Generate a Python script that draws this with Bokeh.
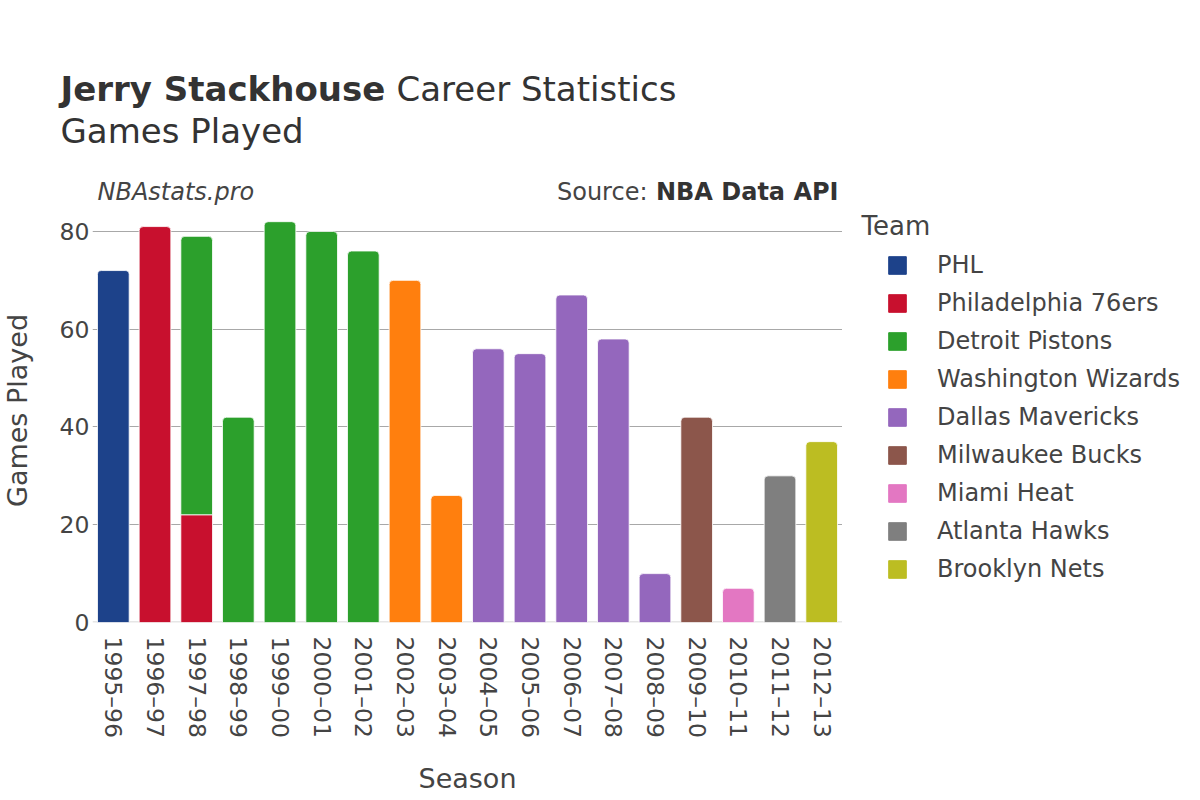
import math
from bokeh.plotting import figure
from bokeh.layouts import column, row
from bokeh.models import (ColumnDataSource, Range1d, FactorRange, FixedTicker, Label,
                          Legend, LegendItem, Span)
from bokeh.embed import file_html
from bokeh.resources import INLINE

# ---------------- data ----------------
seasons = ["1995–96", "1996–97", "1997–98", "1998–99", "1999–00", "2000–01",
           "2001–02", "2002–03", "2003–04", "2004–05", "2005–06", "2006–07",
           "2007–08", "2008–09", "2009–10", "2010–11", "2011–12", "2012–13"]

row_seasons = ["1995–96", "1996–97", "1997–98", "1997–98", "1998–99", "1999–00",
               "2000–01", "2001–02", "2002–03", "2003–04", "2004–05", "2005–06",
               "2006–07", "2007–08", "2008–09", "2009–10", "2010–11", "2011–12",
               "2012–13"]
row_teams = ["PHL", "Philadelphia 76ers", "Philadelphia 76ers", "Detroit Pistons",
             "Detroit Pistons", "Detroit Pistons", "Detroit Pistons", "Detroit Pistons",
             "Washington Wizards", "Washington Wizards", "Dallas Mavericks",
             "Dallas Mavericks", "Dallas Mavericks", "Dallas Mavericks",
             "Dallas Mavericks", "Milwaukee Bucks", "Miami Heat", "Atlanta Hawks",
             "Brooklyn Nets"]
row_games = [72, 81, 22, 57, 42, 82, 80, 76, 70, 26, 56, 55, 67, 58, 10, 42, 7, 30, 37]

teams = ["PHL", "Philadelphia 76ers", "Detroit Pistons", "Washington Wizards",
         "Dallas Mavericks", "Milwaukee Bucks", "Miami Heat", "Atlanta Hawks",
         "Brooklyn Nets"]
team_colors = ["#1d428a", "#c8102e", "#2ca02c", "#ff7f0e", "#9467bd", "#8c564b",
               "#e377c2", "#7f7f7f", "#bcbd22"]

y_ticks = [0, 20, 40, 60, 80]
grid_ticks = [20, 40, 60, 80]

FONT = "DejaVu Sans"
TXT = "#444444"
DARK = "#333333"

# ---------------- stacking ----------------
color_of = dict(zip(teams, team_colors))
cum = {}
last_idx = {}
for i, s in enumerate(row_seasons):
    last_idx[s] = i

top_cols = dict(season=[], team=[], bottom=[], top=[], color=[])
mid_cols = dict(season=[], team=[], bottom=[], top=[], color=[])
for i, (s, t, g) in enumerate(zip(row_seasons, row_teams, row_games)):
    b = cum.get(s, 0)
    cum[s] = b + g
    target = top_cols if last_idx[s] == i else mid_cols
    target["season"].append(s)
    target["team"].append(t)
    target["bottom"].append(b)
    target["top"].append(b + g)
    target["color"].append(color_of[t])

top_src = ColumnDataSource(top_cols)
mid_src = ColumnDataSource(mid_cols)


def blank(fig):
    fig.outline_line_color = None
    fig.border_fill_color = "white"
    fig.background_fill_color = "white"
    fig.title.visible = False
    fig.grid.visible = False


def lab(fig, x, y, text, size, style="normal", align="left", color=DARK, angle=0):
    fig.add_layout(Label(x=x, y=y, x_units="screen", y_units="screen", text=text,
                         text_font=FONT, text_font_size=size, text_font_style=style,
                         text_align=align, text_baseline="middle",
                         text_color=color, angle=angle))


TOTAL_W = 1192
LEFT_W = 40
MAIN_W = 842 - LEFT_W
SIDE_W = TOTAL_W - LEFT_W - MAIN_W
MH = 590

# ---------------- header ----------------
HH = 207
head = figure(width=TOTAL_W, height=HH, x_range=Range1d(0, TOTAL_W),
              y_range=Range1d(0, HH), x_axis_type=None, y_axis_type=None,
              output_backend="svg", toolbar_location=None, min_border=0)
blank(head)
lab(head, 60, 119, "Jerry Stackhouse", "34px", "bold")
lab(head, 396, 119, "Career Statistics", "34px")
lab(head, 60, 77, "Games Played", "34px")
lab(head, 97, 16, "NBAstats.pro", "24px", "italic", color=TXT)
lab(head, 647, 16, "Source:", "24px", align="right", color=TXT)
lab(head, 838, 16, "NBA Data API", "24px", "bold", align="right", color=DARK)

# ---------------- y-axis title column ----------------
left = figure(width=LEFT_W, height=MH, x_range=Range1d(0, LEFT_W),
              y_range=Range1d(0, MH), x_axis_type=None, y_axis_type=None,
              output_backend="svg", toolbar_location=None, min_border=0)
blank(left)
lab(left, 17, 212, "Games Played", "27px", align="center", color=TXT,
    angle=math.pi / 2)

# ---------------- main chart ----------------
p = figure(width=MAIN_W, height=MH, x_range=FactorRange(*seasons),
           y_range=Range1d(0, 84.9), output_backend="svg", toolbar_location=None,
           min_border_left=92 - LEFT_W, min_border_right=0, min_border_top=0,
           min_border_bottom=175)
p.outline_line_color = None
p.title.visible = False
p.background_fill_color = "white"
p.border_fill_color = "white"

p.add_layout(Span(location=0, dimension="width", line_color="#e6e6e6",
                  line_width=3, level="underlay"))

BW = 0.76
r_top = p.vbar(x="season", bottom="bottom", top="top", width=BW, source=top_src,
               fill_color="color", line_color="white", line_width=0.8,
               border_radius=(4, 4, 0, 0))
r_mid = p.vbar(x="season", bottom="bottom", top="top", width=BW, source=mid_src,
               fill_color="color", line_color="white", line_width=0.8)

p.xaxis.axis_label = "Season"
for ax in (p.xaxis[0], p.yaxis[0]):
    ax.axis_line_color = None
    ax.major_tick_line_color = None
    ax.minor_tick_line_color = None
    ax.major_tick_out = 0
    ax.major_tick_in = 0
    ax.major_label_text_font = FONT
    ax.major_label_text_font_size = "23.5px"
    ax.major_label_text_color = TXT
    ax.axis_label_text_font = FONT
    ax.axis_label_text_font_size = "27px"
    ax.axis_label_text_font_style = "normal"
    ax.axis_label_text_color = TXT

p.yaxis.ticker = FixedTicker(ticks=y_ticks)
p.yaxis.major_label_standoff = 3
p.xaxis.major_label_orientation = -math.pi / 2
p.xaxis.major_label_standoff = 14
p.xaxis.axis_label_standoff = 22

p.xgrid.grid_line_color = None
p.ygrid.ticker = FixedTicker(ticks=grid_ticks)
p.ygrid.grid_line_color = "#a8a8a8"
p.ygrid.grid_line_width = 1

# ---------------- legend panel ----------------
side = figure(width=SIDE_W, height=MH, x_range=Range1d(0, SIDE_W),
              y_range=Range1d(0, MH), x_axis_type=None, y_axis_type=None,
              output_backend="svg", toolbar_location=None, min_border=0)
blank(side)
lab(side, 19, 397, "Team", "26px", color=TXT)

nan = float("nan")
leg_src = ColumnDataSource(dict(x=[nan] * len(teams), top=[nan] * len(teams),
                                color=team_colors, team=teams))
r_leg = side.vbar(x="x", top="top", bottom=0, width=1, source=leg_src,
                  fill_color="color", line_color="color", line_width=1)
items = [LegendItem(label=t, renderers=[r_leg], index=i) for i, t in enumerate(teams)]
legend = Legend(items=items, location=(44, 39), orientation="vertical",
                padding=0, margin=0, spacing=10, glyph_width=22, glyph_height=22,
                label_height=22, label_standoff=29, label_text_font=FONT,
                label_text_font_size="24px", label_text_color=TXT,
                border_line_color=None, background_fill_alpha=0)
side.add_layout(legend)

layout = column(head, row(left, p, side, spacing=0), spacing=0)
open("out.html", "w").write(file_html(layout, INLINE))
